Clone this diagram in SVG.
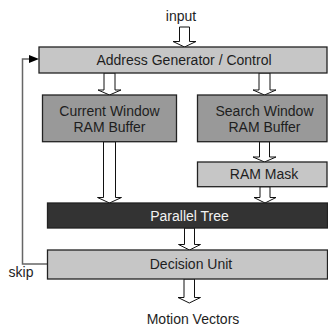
<svg xmlns="http://www.w3.org/2000/svg" width="328" height="326" viewBox="0 0 328 326">
  <style>
    text { font-family: "Liberation Sans", Arial, sans-serif; font-size: 14px; fill: #1e1e1e; text-anchor: middle; }
    .box { stroke: #222; stroke-width: 1.3; }
    .light { fill: #c6c6c6; }
    .mid { fill: #999999; }
    .dark { fill: #333333; }
    .inv { fill: #f2f2f2; }
    .flow { fill: #ffffff; stroke: #111; stroke-width: 1; stroke-linejoin: miter; }
    .loop { fill: none; stroke: #666; stroke-width: 1.5; }
  </style>
  <defs>
    <marker id="head" markerWidth="10" markerHeight="8" refX="10" refY="4" orient="auto" markerUnits="userSpaceOnUse">
      <path d="M0,0 L10,4 L0,8 Z" fill="#000"/>
    </marker>
  </defs>

  <rect width="328" height="326" fill="#ffffff"/>

  <!-- hollow block arrows and the skip loop -->
  <g id="connectors">
    <path class="flow" d="M179.5,27 H189.5 V41.5 H196 L184.5,47 L173,41.5 H179.5 Z"/>
    <path class="flow" d="M104,73 H115 V90 H121 L109.5,95 L98,90 H104 Z"/>
    <path class="flow" d="M259,73 H270 V90 H276 L264.5,95 L253,90 H259 Z"/>
    <path class="flow" d="M103.5,141.7 H115.5 V197.5 H121.5 L109.5,203 L97.5,197.5 H103.5 Z"/>
    <path class="flow" d="M259.5,141.7 H269.5 V157 H276 L264.5,162 L253,157 H259.5 Z"/>
    <path class="flow" d="M260,186.7 H270 V197.5 H276 L265,203 L254,197.5 H260 Z"/>
    <path class="flow" d="M184.5,228 H194.5 V244.5 H200.5 L189.5,250 L178.5,244.5 H184.5 Z"/>
    <path class="flow" d="M184,279 H194.5 V297.5 H200.5 L189.3,303 L178,297.5 H184 Z"/>
    <path class="loop" d="M47.5,264 H22.5 V59 H30" />
    <path d="M29,55 L39,59 L29,63 Z" fill="#000"/>
    <text x="21" y="277">skip</text>
  </g>

  <text x="181" y="21">input</text>

  <g id="address-generator">
    <rect class="box light" x="39" y="47" width="288" height="26"/>
    <text x="184" y="65">Address Generator / Control</text>
  </g>

  <g id="current-window">
    <rect class="box mid" x="42.5" y="95" width="134" height="46.7"/>
    <text x="109.5" y="115.5">Current Window</text>
    <text x="109.5" y="131.5">RAM Buffer</text>
  </g>

  <g id="search-window">
    <rect class="box mid" x="197.5" y="95" width="129.5" height="46.7"/>
    <text x="264.5" y="115.5">Search Window</text>
    <text x="264.5" y="131.5">RAM Buffer</text>
  </g>

  <g id="ram-mask">
    <rect class="box light" x="197.5" y="162" width="129.5" height="24.7"/>
    <text x="264" y="178.5">RAM Mask</text>
  </g>

  <g id="parallel-tree">
    <rect class="box dark" x="47.5" y="203" width="280" height="25"/>
    <text class="inv" x="189.5" y="221">Parallel Tree</text>
  </g>

  <g id="decision-unit">
    <rect class="box light" x="47.5" y="250" width="280" height="29"/>
    <text x="191" y="268.5">Decision Unit</text>
  </g>

  <text x="193" y="324">Motion Vectors</text>
</svg>
